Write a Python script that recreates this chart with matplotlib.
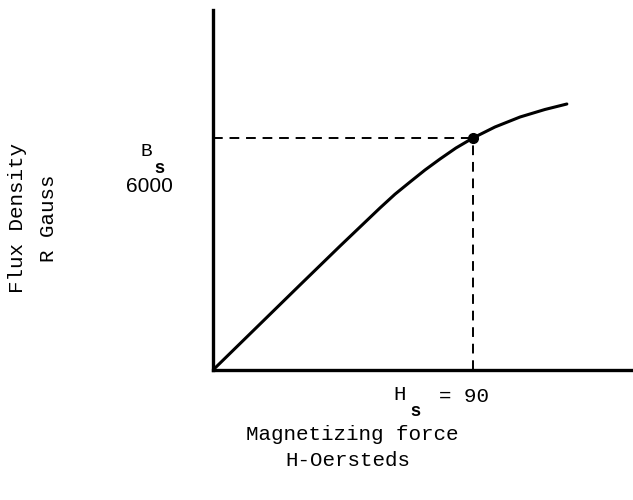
import matplotlib
matplotlib.use("Agg")
import matplotlib.pyplot as plt

# B-H curve (H in Oersteds, B in Gauss)
H = [0, 16.3, 30.1, 44.0, 57.8, 63.0, 68.2, 73.4, 78.6, 84.1, 90, 97.6, 106.3, 114.9, 122.5]
B = [0, 1190, 2198, 3207, 4190, 4546, 4862, 5173, 5457, 5741, 6000, 6284, 6543, 6737, 6879]
Hs = 90
Bs = 6000

fig = plt.figure(figsize=(6.33, 5.0), dpi=100)
ax = fig.add_axes([213/633, 130/500, 420/633, 360/500])
ax.set_xlim(0, 145.4)
ax.set_ylim(0, 9310)

mono = "Liberation Mono"
sans = "Liberation Sans"

ax.plot(H, B, color="black", lw=2.2, solid_capstyle="round", solid_joinstyle="round")
ax.plot([Hs], [Bs], "o", color="black", ms=7)
ax.plot([0, Hs], [Bs, Bs], color="black", lw=1.4, ls=(0, (5, 3.5)))
ax.plot([Hs, Hs], [0, Bs], color="black", lw=1.4, ls=(0, (5, 3.5)))

for s in ["top", "right"]:
    ax.spines[s].set_visible(False)
for s in ["left", "bottom"]:
    ax.spines[s].set_linewidth(2.4)
ax.set_xticks([])
ax.set_yticks([])

def px(x, y):
    return x / 633, 1 - y / 500

# y annotations
fig.text(*px(146, 152), "B", fontsize=14, family=mono, ha="center", va="center")
fig.text(*px(159, 168), "s", fontsize=13, family=sans, weight="bold", ha="center", va="center")
fig.text(*px(149, 186), "6000", fontsize=15, family=sans, ha="center", va="center")

# x annotations
fig.text(*px(400, 395), "H", fontsize=15, family=mono, ha="center", va="center")
fig.text(*px(415, 411), "s", fontsize=13, family=sans, weight="bold", ha="center", va="center")
fig.text(*px(464, 396), "= 90", fontsize=15, family=mono, ha="center", va="center")

fig.text(*px(352, 435), "Magnetizing force", fontsize=15, family=mono, ha="center", va="center")
fig.text(*px(348, 461), "H-Oersteds", fontsize=15, family=mono, ha="center", va="center")

fig.text(*px(18, 218), "Flux Density", fontsize=15, family=mono, ha="center", va="center", rotation=90)
fig.text(*px(48, 218), "R Gauss", fontsize=15, family=mono, ha="center", va="center", rotation=90)

fig.savefig("out.png", dpi=100)
